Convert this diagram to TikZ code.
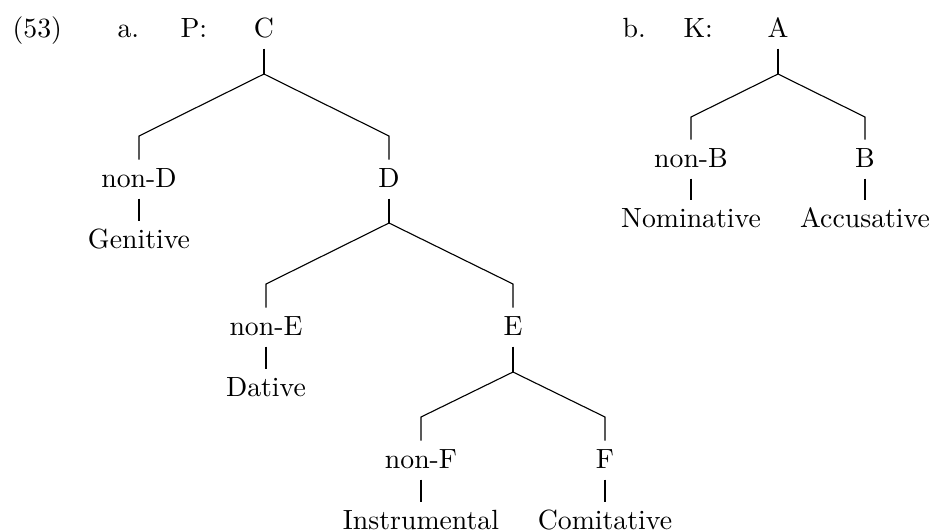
\documentclass[tikz,border=0pt]{standalone}
\begin{document}
\begin{tikzpicture}[x=0.36pt,y=-0.36pt,
  lab/.style={anchor=base,inner xsep=0pt,inner ysep=2.5pt,text height=7.2pt,text depth=1.5pt},
  tag/.style={anchor=base west,inner sep=0pt},
  edge/.style={line width=0.4pt}]
\useasboundingbox (0,0) rectangle (934,531);
% labels
\node[tag] (ex) at (12,37) {(53)};
\node[tag] (la) at (117,37) {a.};
\node[tag] (lP) at (180,37) {P:};
\node[tag] (lb) at (622,37) {b.};
\node[tag] (lK) at (683,37) {K:};
% tree a
\node[lab] (C) at (264,37) {C};
\node[lab] (nonD) at (139,187) {non-D};
\node[lab] (Gen) at (139,248) {Genitive};
\node[lab] (D) at (389,187) {D};
\node[lab] (nonE) at (266,335) {non-E};
\node[lab] (Dat) at (266,396) {Dative};
\node[lab] (E) at (513,335) {E};
\node[lab] (nonF) at (421,468) {non-F};
\node[lab] (Ins) at (421,529) {Instrumental};
\node[lab] (F) at (605,468) {F};
\node[lab] (Com) at (605,529) {Comitative};
\coordinate (jC) at (264,74);
\coordinate (lC) at (139,136);
\coordinate (rC) at (389,136);
\coordinate (jD) at (389,223);
\coordinate (lD) at (266,284);
\coordinate (rD) at (513,284);
\coordinate (jE) at (513,372);
\coordinate (lE) at (421,417);
\coordinate (rE) at (605,417);
\draw[edge] (C.south) -- (jC);
\draw[edge] (nonD.north) -- (lC) -- (jC) -- (rC) -- (D.north);
\draw[edge] (nonD.south) -- (Gen.north);
\draw[edge] (D.south) -- (jD);
\draw[edge] (nonE.north) -- (lD) -- (jD) -- (rD) -- (E.north);
\draw[edge] (nonE.south) -- (Dat.north);
\draw[edge] (E.south) -- (jE);
\draw[edge] (nonF.north) -- (lE) -- (jE) -- (rE) -- (F.north);
\draw[edge] (nonF.south) -- (Ins.north);
\draw[edge] (F.south) -- (Com.north);
% tree b
\node[lab] (A) at (778,37) {A};
\node[lab] (nonB) at (691,167) {non-B};
\node[lab] (Nom) at (691,227) {Nominative};
\node[lab] (B) at (865,167) {B};
\node[lab] (Acc) at (865,227) {Accusative};
\coordinate (jA) at (778,74);
\coordinate (lA) at (691,117);
\coordinate (rA) at (865,117);
\draw[edge] (A.south) -- (jA);
\draw[edge] (nonB.north) -- (lA) -- (jA) -- (rA) -- (B.north);
\draw[edge] (nonB.south) -- (Nom.north);
\draw[edge] (B.south) -- (Acc.north);
\end{tikzpicture}
\end{document}
